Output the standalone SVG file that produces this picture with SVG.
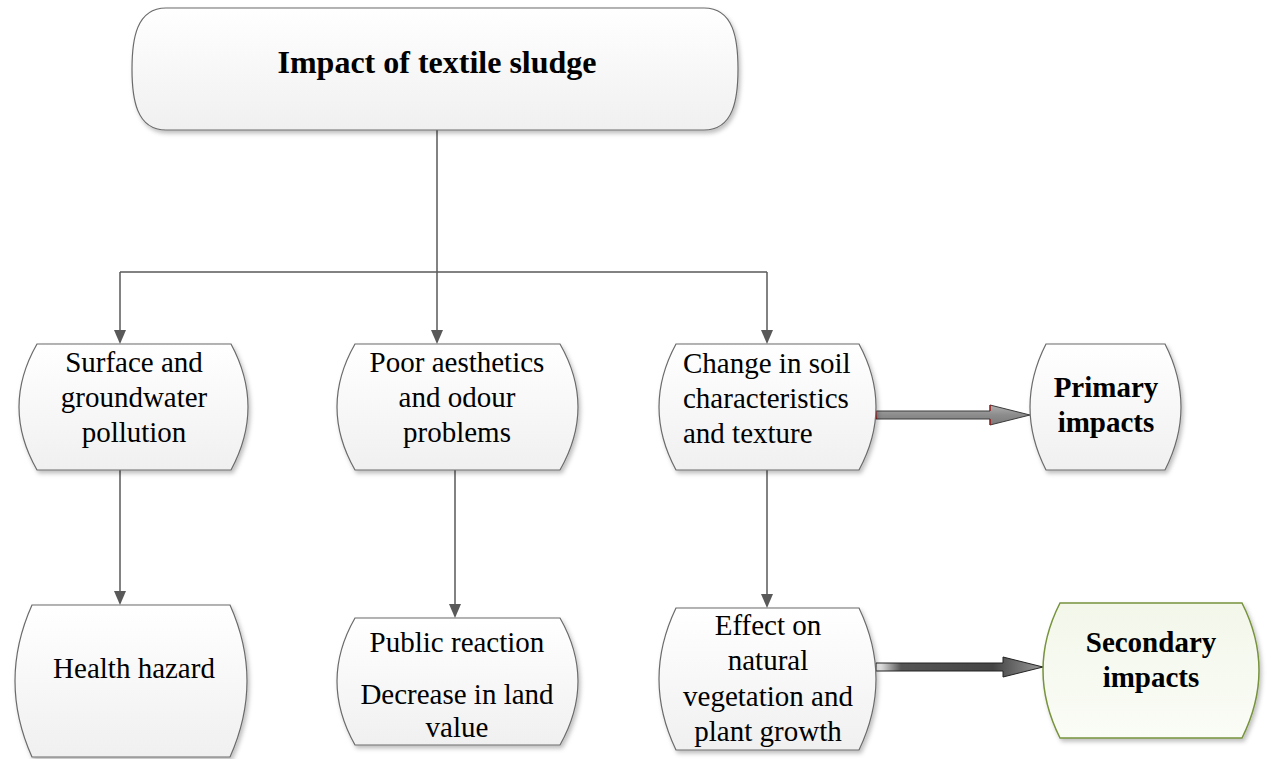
<svg xmlns="http://www.w3.org/2000/svg" width="1279" height="759" viewBox="0 0 1279 759">
<style>
.box{fill:url(#gfill);stroke:#6b6b6b;stroke-width:1.2;filter:url(#sh)}
.gbox{fill:url(#ggreen);stroke:#77933c;stroke-width:1.5;filter:url(#sh)}
.t{font-family:"Liberation Serif","Times New Roman",serif;font-size:29px;fill:#000}
.b{font-weight:bold}
.c{text-anchor:middle}
.ln{fill:none;stroke:#595959;stroke-width:1.5}
.ah{fill:#595959}
</style>
<defs>
<linearGradient id="gfill" x1="0" y1="0" x2="0" y2="1">
<stop offset="0" stop-color="#ffffff"/><stop offset="1" stop-color="#f0f0f0"/>
</linearGradient>
<linearGradient id="ggreen" x1="0" y1="0" x2="0" y2="1">
<stop offset="0" stop-color="#f3f7ea"/><stop offset="1" stop-color="#fafcf6"/>
</linearGradient>
<linearGradient id="gshaft" x1="0" y1="0" x2="0" y2="1">
<stop offset="0" stop-color="#b0b0b0"/><stop offset="0.5" stop-color="#8c8c8c"/><stop offset="1" stop-color="#7a7a7a"/>
</linearGradient>
<linearGradient id="gshaft2" x1="0" y1="0" x2="1" y2="0">
<stop offset="0" stop-color="#ffffff"/><stop offset="0.15" stop-color="#555"/><stop offset="0.7" stop-color="#444"/><stop offset="1" stop-color="#999"/>
</linearGradient>
<filter id="sh" x="-10%" y="-10%" width="130%" height="130%">
<feDropShadow dx="2" dy="3" stdDeviation="2" flood-color="#000" flood-opacity="0.25"/>
</filter>
</defs>

<g id="connectors">
<path class="ln" d="M437,130 V272"/>
<path class="ln" d="M120,272 H767"/>
<path class="ln" d="M120,272 V330"/>
<path class="ah" d="M114,330 H126 L120,344 Z"/>
<path class="ln" d="M437,272 V330"/>
<path class="ah" d="M431,330 H443 L437,344 Z"/>
<path class="ln" d="M767,272 V330"/>
<path class="ah" d="M761,330 H773 L767,344 Z"/>
<path class="ln" d="M120,470 V591"/>
<path class="ah" d="M114,591 H126 L120,605 Z"/>
<path class="ln" d="M455,470 V604"/>
<path class="ah" d="M449,604 H461 L455,618 Z"/>
<path class="ln" d="M767,470 V594"/>
<path class="ah" d="M761,594 H773 L767,608 Z"/>
<path d="M876,411 H990 V405 L1030,415 L990,425 V419 H876 Z" fill="url(#gshaft)" stroke="#3a3a3a" stroke-width="1"/>
<path d="M876,411 V419" stroke="#c00000" stroke-width="1.2"/>
<path d="M990,405 V411 M990,419 V425" stroke="#c00000" stroke-width="1"/>
<path d="M876,663 H1003 V657 L1043,667 L1003,677 V671 H876 Z" fill="url(#gshaft2)" stroke="#222" stroke-width="1"/>
</g>

<g id="n-top">
<path class="box" d="M166,8 H704 C734,8 738,40 738,69 C738,98 734,130 704,130 H166 C136,130 132,98 132,69 C132,40 136,8 166,8 Z"/>
<text class="t b c" x="437" y="73" style="font-size:32px">Impact of textile sludge</text>
</g>

<g id="n-surface">
<path class="box" d="M37,344 H231 Q265,407 231,470 H37 Q1,407 37,344 Z"/>
<text class="t c" x="134" y="372">Surface and</text>
<text class="t c" x="134" y="407">groundwater</text>
<text class="t c" x="134" y="442">pollution</text>
</g>

<g id="n-poor">
<path class="box" d="M355,344 H560 Q596,407 560,470 H355 Q319,407 355,344 Z"/>
<text class="t c" x="457" y="372">Poor aesthetics</text>
<text class="t c" x="457" y="407">and odour</text>
<text class="t c" x="457" y="442">problems</text>
</g>

<g id="n-soil">
<path class="box" d="M676,344 H859 Q893,407 859,470 H676 Q642,407 676,344 Z"/>
<text class="t" x="683" y="373">Change in soil</text>
<text class="t" x="683" y="408">characteristics</text>
<text class="t" x="683" y="443">and texture</text>
</g>

<g id="n-primary">
<path class="box" d="M1046,344 H1165 Q1197,407 1165,470 H1046 Q1014,407 1046,344 Z"/>
<text class="t b c" x="1106" y="397">Primary</text>
<text class="t b c" x="1106" y="432">impacts</text>
</g>

<g id="n-health">
<path class="box" d="M32,605 H230 Q264,681 230,757 H32 Q-2,681 32,605 Z"/>
<text class="t c" x="134" y="678">Health hazard</text>
</g>

<g id="n-public">
<path class="box" d="M355,618 H560 Q596,681 560,745 H355 Q319,681 355,618 Z"/>
<text class="t c" x="457" y="652">Public reaction</text>
<text class="t c" x="457" y="704">Decrease in land</text>
<text class="t c" x="457" y="737">value</text>
</g>

<g id="n-effect">
<path class="box" d="M676,608 H859 Q893,679 859,750 H676 Q642,679 676,608 Z"/>
<text class="t c" x="768" y="635">Effect on</text>
<text class="t c" x="768" y="670">natural</text>
<text class="t c" x="768" y="706">vegetation and</text>
<text class="t c" x="768" y="741">plant growth</text>
</g>

<g id="n-secondary">
<path class="gbox" d="M1060,603 H1242 Q1276,670 1242,738 H1060 Q1026,670 1060,603 Z"/>
<text class="t b c" x="1151" y="652">Secondary</text>
<text class="t b c" x="1151" y="687">impacts</text>
</g>
</svg>
